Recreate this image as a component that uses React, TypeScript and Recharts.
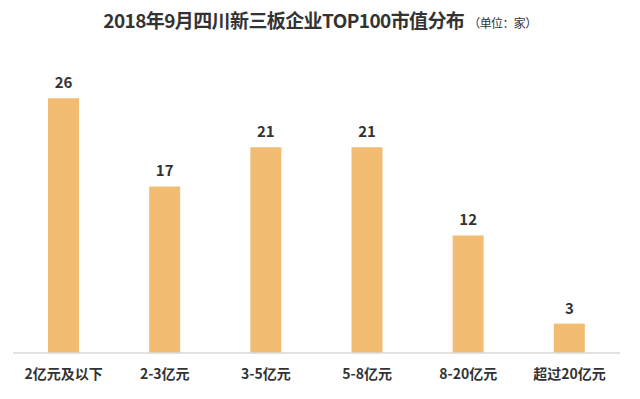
import * as React from "react";
import { BarChart, Bar, XAxis, YAxis, LabelList } from "recharts";

/* ---------- data ---------- */
const categories = ["2亿元及以下", "2-3亿元", "3-5亿元", "5-8亿元", "8-20亿元", "超过20亿元"];
const counts = [26, 17, 21, 21, 12, 3];

const barColor = "#F2BD72";
const textColor = "#333333";

const data = categories.map((name, i) => ({ name, value: counts[i] }));

export default function App() {
  return (
    <div
      style={{
        position: "absolute",
        left: 0,
        top: 0,
        width: 640,
        height: 399,
        background: "#fff",
        fontFamily: "'Noto Sans CJK SC', 'Noto Sans', sans-serif",
      }}
    >
      <div
        style={{
          position: "absolute",
          top: 6,
          left: 0,
          width: 640,
          textAlign: "center",
          color: textColor,
          fontWeight: 700,
          fontSize: 19,
          letterSpacing: -0.6,
        }}
      >
        2018年9月四川新三板企业TOP100市值分布
        <span style={{ fontSize: 12, fontWeight: 400, marginLeft: 4 }}>（单位：家）</span>
      </div>
      <BarChart
        width={640}
        height={399}
        data={data}
        margin={{ top: 59, right: 20, bottom: 16, left: 13 }}
        barCategoryGap="0%"
      >
        <XAxis
          dataKey="name"
          axisLine={{ stroke: "#d9d9d9", strokeWidth: 1.5 }}
          tickLine={false}
          interval={0}
          tick={{ fontSize: 14, fontWeight: 700, fill: textColor }}
          dy={8}
        />
        <YAxis hide domain={[0, 30]} />
        <Bar dataKey="value" fill={barColor} barSize={31} isAnimationActive={false}>
          <LabelList
            dataKey="value"
            position="top"
            offset={10}
            style={{ fontSize: 15, fontWeight: 700, fill: textColor }}
          />
        </Bar>
      </BarChart>
    </div>
  );
}
